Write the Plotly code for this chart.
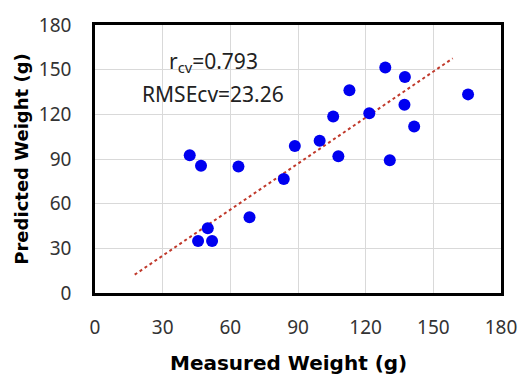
import plotly.graph_objects as go

measured = [128.7, 137.4, 112.8, 165.4, 137.2, 105.6, 121.6, 141.5, 88.6, 99.6,
            42.0, 107.9, 130.7, 47.0, 63.6, 83.7, 68.5, 50.0, 45.7, 51.9]
predicted = [151.5, 145.0, 136.2, 133.4, 126.5, 118.5, 120.7, 111.9, 98.7, 102.2,
             92.5, 91.8, 89.2, 85.4, 84.9, 76.5, 50.9, 43.5, 34.9, 34.9]
trend_x = [17.6, 158.6]
trend_y = [12.3, 157.6]
tick_vals = [0, 30, 60, 90, 120, 150, 180]
tick_text = ["0", "30", "60", "90", "120", "150", "180"]

FONT = "Noto Sans"
TITLE_FONT = "DejaVu Sans"

fig = go.Figure()
fig.add_trace(go.Scatter(x=trend_x, y=trend_y, mode="lines",
                         line=dict(color="#c0392b", width=2, dash="dot"),
                         showlegend=False, hoverinfo="skip"))
fig.add_trace(go.Scatter(x=measured, y=predicted, mode="markers",
                         marker=dict(color="#0000f0", size=12, line=dict(width=0)),
                         showlegend=False))

axis_common = dict(range=[0, 180], tickvals=tick_vals, ticktext=tick_text,
                   showgrid=True, gridcolor="#d9d9d9", gridwidth=1,
                   showline=True, linecolor="black", linewidth=2.5, mirror=True,
                   zeroline=False, ticks="",
                   tickfont=dict(family=FONT, size=19, color="#333333"))

fig.update_xaxes(ticklabelstandoff=15, **axis_common)
fig.update_yaxes(ticklabelstandoff=17, **axis_common)

fig.add_annotation(x=52.5, y=155.0, xref="x", yref="y",
                   text="r<sub>cv</sub>=0.793", showarrow=False,
                   xanchor="center", yanchor="middle",
                   font=dict(family=FONT, size=21, color="#222222"))
fig.add_annotation(x=52.5, y=133.4, xref="x", yref="y",
                   text="RMSEcv=23.26", showarrow=False,
                   xanchor="center", yanchor="middle",
                   font=dict(family=FONT, size=21, color="#222222"))
fig.add_annotation(x=0.477, y=-0.262, xref="paper", yref="paper",
                   text="<b>Measured Weight (g)</b>", showarrow=False,
                   xanchor="center", yanchor="middle",
                   font=dict(family=TITLE_FONT, size=20, color="black"))
fig.add_annotation(x=-0.183, y=0.5, xref="paper", yref="paper",
                   text="<b>Predicted Weight (g)</b>", showarrow=False, textangle=-90,
                   xanchor="center", yanchor="middle",
                   font=dict(family=TITLE_FONT, size=18, color="black"))

fig.update_layout(width=529, height=380,
                  margin=dict(l=95, r=18, t=15, b=87),
                  paper_bgcolor="white", plot_bgcolor="white")

fig.write_html("out.html")
